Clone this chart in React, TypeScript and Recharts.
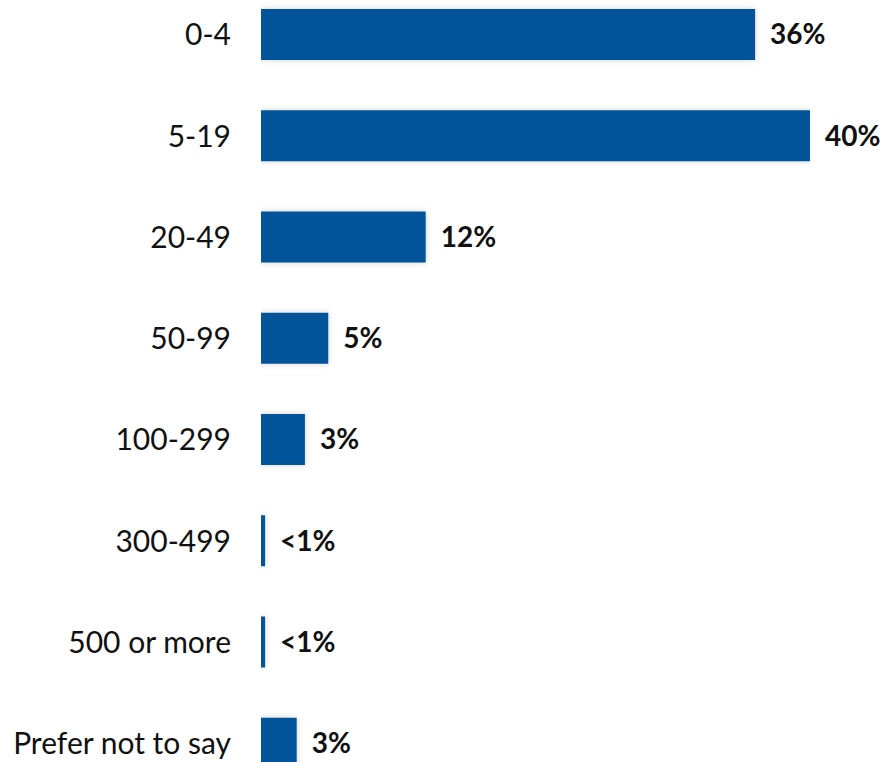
import { BarChart, Bar, XAxis, YAxis, LabelList, Cell } from "recharts";

const categories = ["0-4", "5-19", "20-49", "50-99", "100-299", "300-499", "500 or more", "Prefer not to say"];
const shares = [36, 40, 12, 4.9, 3.2, 0.3, 0.3, 2.6];
const shareLabels = ["36%", "40%", "12%", "5%", "3%", "<1%", "<1%", "3%"];

const BLUE = "#01539A";
const FONT = "Lato, 'Open Sans', sans-serif";

const data = categories.map((c, i) => ({ c, v: shares[i], lbl: shareLabels[i] }));

function CatTick({ x, y, payload }: any) {
  return (
    <text x={x - 22} y={y} dy="0.36em" textAnchor="end" fontSize={30} fontFamily={FONT} fill="#111">
      {payload.value}
    </text>
  );
}

export default function App() {
  return (
    <div style={{ position: "absolute", left: 0, top: 0, width: 887, height: 762, overflow: "hidden", background: "#fff" }}>
      <style>{`.recharts-bar-rectangle path { filter: drop-shadow(0 0 3px rgba(0,0,0,0.18)); }`}</style>
      <div style={{ position: "absolute", left: 0, top: -16 }}>
        <BarChart
          width={887}
          height={810}
          data={data}
          layout="vertical"
          margin={{ top: 0, right: 77, bottom: 0, left: 0 }}
        >
          <XAxis type="number" hide domain={[0, 40]} allowDataOverflow />
          <YAxis
            type="category"
            dataKey="c"
            width={261}
            axisLine={false}
            tickLine={false}
            tick={<CatTick />}
            interval={0}
          />
          <Bar dataKey="v" barSize={51} fill={BLUE} isAnimationActive={false}>
            {data.map((d) => (
              <Cell key={d.c} fill={BLUE} />
            ))}
            <LabelList
              dataKey="lbl"
              position="right"
              offset={15}
              fontSize={28}
              fontWeight={700}
              fontFamily={FONT}
              fill="#111"
            />
          </Bar>
        </BarChart>
      </div>
    </div>
  );
}
